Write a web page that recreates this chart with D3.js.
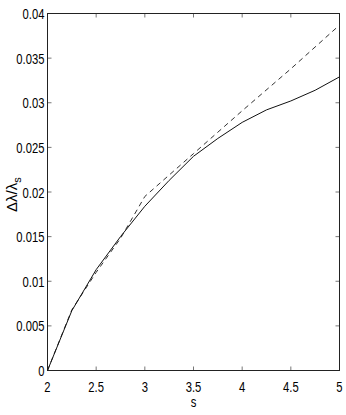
<!DOCTYPE html>
<html>
<head>
<meta charset="utf-8">
<script src="https://cdn.jsdelivr.net/npm/d3@7"></script>
<style>
body { margin: 0; background: #fff; }
text { font-family: "Liberation Sans", Arial, sans-serif; font-size: 15px; fill: #000; }
</style>
</head>
<body>
<svg width="346" height="415"></svg>
<script>
// s values and the two curves
var sSolid = [2, 2.25, 2.5, 2.75, 3, 3.25, 3.5, 3.75, 4, 4.25, 4.5, 4.75, 5];
var solid = [0, 0.0067, 0.0113, 0.0150, 0.0184, 0.0213, 0.0240, 0.0260, 0.0278, 0.0292, 0.0302, 0.0314, 0.0329];
var sDashed = [2, 2.25, 2.5, 2.75, 3, 3.5, 4, 4.5, 5];
var dashed = [0, 0.0068, 0.0110, 0.0148, 0.0195, 0.0243, 0.0291, 0.0338, 0.0387];
var xTicks = [2, 2.5, 3, 3.5, 4, 4.5, 5];
var yTicks = [0, 0.005, 0.01, 0.015, 0.02, 0.025, 0.03, 0.035, 0.04];

var svg = d3.select('svg');
var L = 47.5, R = 339.5, T = 13.5, B = 370.5;
var squeeze = 0.75; // the original font is a narrow one

var x = d3.scaleLinear().domain([2, 5]).range([L, R]);
var y = d3.scaleLinear().domain([0, 0.04]).range([B, T]);

function label(px, py, anchor, str){
	return svg.append('text')
		.attr('transform', 'translate(' + px + ',' + py + ') scale(' + squeeze + ',1)')
		.attr('text-anchor', anchor).text(str);
}

// ticks on all four sides, pointing in
var g = svg.append('g');
xTicks.forEach(function(t){
	g.append('line').attr('x1', x(t)).attr('x2', x(t)).attr('y1', B).attr('y2', B - 4).style('stroke', '#777');
	g.append('line').attr('x1', x(t)).attr('x2', x(t)).attr('y1', T).attr('y2', T + 4).style('stroke', '#777');
	label(x(t), B + 21, 'middle', t);
});
yTicks.forEach(function(t){
	g.append('line').attr('x1', L).attr('x2', L + 4).attr('y1', y(t)).attr('y2', y(t)).style('stroke', '#777');
	g.append('line').attr('x1', R).attr('x2', R - 4).attr('y1', y(t)).attr('y2', y(t)).style('stroke', '#777');
	label(L - 3, y(t) + 5.5, 'end', t);
});

svg.append('rect').attr('x', L).attr('y', T).attr('width', R - L).attr('height', B - T)
	.style('fill', 'none').style('stroke', '#222').style('stroke-width', 1);

var line = d3.line().x(function(d){ return x(d[0]); }).y(function(d){ return y(d[1]); });

svg.append('path').datum(d3.zip(sDashed, dashed)).attr('d', line)
	.style('fill', 'none').style('stroke', '#333').style('stroke-width', 1).style('stroke-dasharray', '5,4');
svg.append('path').datum(d3.zip(sSolid, solid)).attr('d', line)
	.style('fill', 'none').style('stroke', '#111').style('stroke-width', 1);

label((L + R) / 2, 407, 'middle', 's');

var yl = svg.append('text')
	.attr('transform', 'translate(17,' + y(0.0197) + ') rotate(-90)')
	.attr('text-anchor', 'middle');
yl.append('tspan').text('Δλ/λ');
yl.append('tspan').attr('dy', 4).style('font-size', '11px').text('s');
</script>
</body>
</html>
